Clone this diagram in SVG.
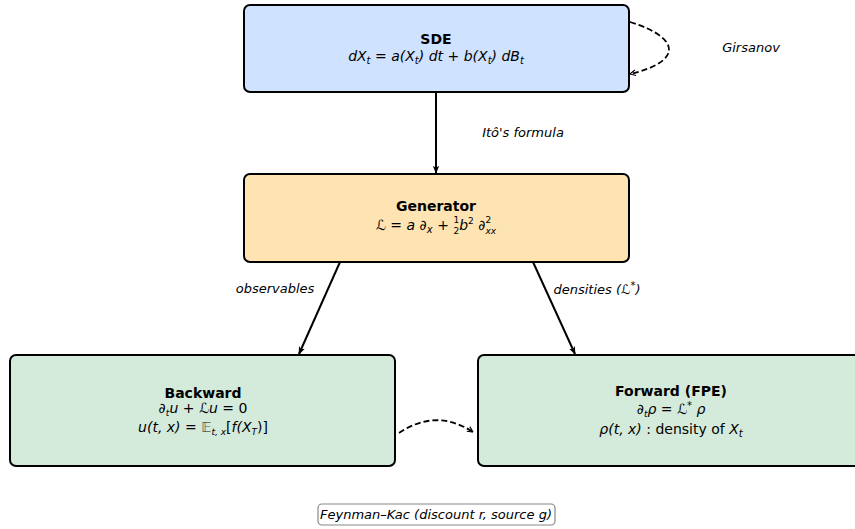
<svg xmlns="http://www.w3.org/2000/svg" width="855" height="529" viewBox="0 0 855 529">
<defs>
<marker id="ah" viewBox="0 0 10 10" refX="9" refY="5" markerWidth="7" markerHeight="7" markerUnits="userSpaceOnUse" orient="auto">
<path d="M1,1 L9,5 L1,9" fill="none" stroke="#000" stroke-width="1.6"/>
</marker>
<marker id="af" viewBox="0 0 10 10" refX="9" refY="5" markerWidth="8" markerHeight="8" markerUnits="userSpaceOnUse" orient="auto">
<path d="M0,1 L10,5 L0,9 L2.5,5 Z" fill="#000"/>
</marker>
</defs>
<style>
.box{stroke:#000;stroke-width:2}
.t{font-family:"DejaVu Sans",sans-serif;font-size:14px;fill:#000;text-anchor:middle}
.b{font-weight:bold}
.m{font-style:italic}
.lbl{font-family:"DejaVu Sans",sans-serif;font-size:13px;font-style:italic;fill:#000;text-anchor:middle}
.sub{font-size:10px}
.s9{font-size:9px}
.c{fill:none;stroke:#000;stroke-width:2}
.d{fill:none;stroke:#000;stroke-width:1.8;stroke-dasharray:6,3}
</style>
<rect width="855" height="529" fill="#fff"/>
<g id="edges">
<line class="c" x1="436" y1="92" x2="436" y2="173" marker-end="url(#af)"/>
<line class="c" x1="340" y1="262" x2="299" y2="354" marker-end="url(#af)"/>
<line class="c" x1="533" y1="262" x2="575" y2="354" marker-end="url(#af)"/>
<path class="d" d="M630,22 C682,38 682,62 630,74" marker-end="url(#ah)"/>
<path class="d" d="M399,433 Q436,408 473,432" marker-end="url(#ah)"/>
<text class="lbl" x="751" y="52">Girsanov</text>
<text class="lbl" x="523" y="137">Itô's formula</text>
<text class="lbl" x="275" y="293">observables</text>
<text class="lbl" x="597" y="294">densities (ℒ<tspan class="sub" dy="-5" font-style="normal">*</tspan><tspan dy="5">)</tspan></text>
</g>
<g id="sde">
<rect class="box" x="244" y="5" width="385" height="87" rx="6" fill="#cfe2ff"/>
<text class="t b" x="436" y="44">SDE</text>
<text class="t m" x="436" y="61">dX<tspan class="sub" dy="3">t</tspan><tspan dy="-3" font-style="normal"> = </tspan>a(X<tspan class="sub" dy="3">t</tspan><tspan dy="-3">) dt </tspan><tspan font-style="normal">+ </tspan>b(X<tspan class="sub" dy="3">t</tspan><tspan dy="-3">) dB</tspan><tspan class="sub" dy="3">t</tspan></text>
</g>
<g id="generator">
<rect class="box" x="244" y="174" width="385" height="88" rx="6" fill="#fee4b3"/>
<text class="t b" x="436" y="211">Generator</text>
<text class="t m" x="436" y="230">ℒ<tspan font-style="normal"> = </tspan>a ∂<tspan class="sub" dy="3">x</tspan><tspan dy="-3" font-style="normal"> + </tspan><tspan class="s9" font-style="normal" dy="-7">1</tspan><tspan class="s9" font-style="normal" dx="-5.7" dy="11">2</tspan><tspan dy="-4">b</tspan><tspan class="s9" dy="-6" font-style="normal">2</tspan><tspan dy="6"> ∂</tspan><tspan class="s9" font-style="normal" dy="-7">2</tspan><tspan class="s9" dx="-5.7" dy="11">xx</tspan></text>
</g>
<g id="backward">
<rect class="box" x="10" y="355" width="385" height="111" rx="6" fill="#d4eadb"/>
<text class="t b" x="203" y="398">Backward</text>
<text class="t m" x="203" y="413">∂<tspan class="s9" dy="3">t</tspan><tspan dy="-3">u </tspan><tspan font-style="normal">+ </tspan>ℒu<tspan font-style="normal"> = 0</tspan></text>
<text class="t m" x="203" y="432">u(t, x)<tspan font-style="normal"> = </tspan><tspan font-style="normal" fill="#555">𝔼</tspan><tspan class="s9" dy="3">t, x</tspan><tspan dy="-3" font-style="normal">[</tspan>f(X<tspan class="s9" dy="3">T</tspan><tspan dy="-3" font-style="normal">)]</tspan></text>
</g>
<g id="forward">
<rect class="box" x="478" y="355" width="386" height="111" rx="6" fill="#d4eadb"/>
<text class="t b" x="671" y="396">Forward (FPE)</text>
<text class="t m" x="671" y="414">∂<tspan class="s9" dy="3">t</tspan><tspan dy="-3">ρ</tspan><tspan font-style="normal"> = </tspan>ℒ<tspan class="sub" dy="-5" font-style="normal">*</tspan><tspan dy="5"> ρ</tspan></text>
<text class="t m" x="671" y="434">ρ(t, x)<tspan font-style="normal"> :  density of </tspan>X<tspan class="sub" dy="3">t</tspan></text>
</g>
<g id="feynman-kac">
<rect x="318" y="504" width="237" height="21" rx="4" fill="#fff" stroke="#888" stroke-width="1.2"/>
<text class="lbl" x="436" y="519">Feynman–Kac (discount r, source g)</text>
</g>
</svg>
